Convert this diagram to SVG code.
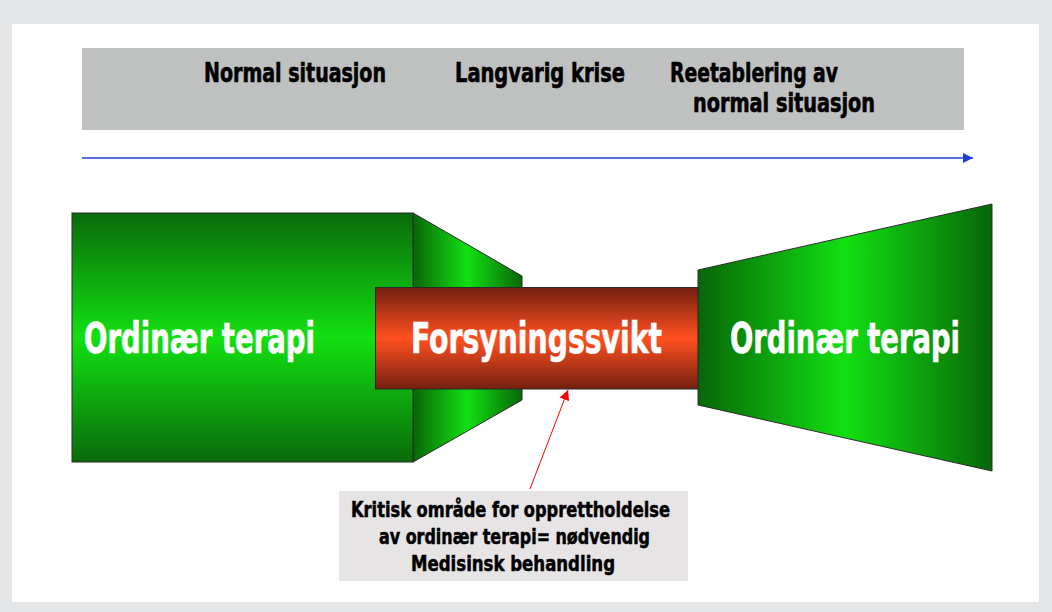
<svg xmlns="http://www.w3.org/2000/svg" width="1052" height="612" viewBox="0 0 1052 612">
<style>
.hdr{font-family:"Liberation Sans Narrow","DejaVu Sans Condensed","Liberation Sans",sans-serif;font-weight:bold;font-size:26px;fill:#000;stroke:#000;stroke-width:0.6}
.big{font-family:"Liberation Sans Narrow","DejaVu Sans Condensed","Liberation Sans",sans-serif;font-weight:bold;font-size:42px;fill:#fff;stroke:#fff;stroke-width:0.6}
.lbl{font-family:"Liberation Sans Narrow","DejaVu Sans Condensed","Liberation Sans",sans-serif;font-weight:bold;font-size:21px;fill:#000;stroke:#000;stroke-width:0.5}
.shape{stroke:#2a2a2a;stroke-width:1}
</style>
<defs>
<linearGradient id="gV" x1="0" y1="0" x2="0" y2="1">
<stop offset="0" stop-color="#0a6a0a"/><stop offset="0.5" stop-color="#12e012"/><stop offset="1" stop-color="#0a6a0a"/>
</linearGradient>
<linearGradient id="gH" x1="0" y1="0" x2="1" y2="0">
<stop offset="0" stop-color="#086608"/><stop offset="0.5" stop-color="#12e012"/><stop offset="1" stop-color="#086608"/>
</linearGradient>
<linearGradient id="gR" x1="0" y1="0" x2="0" y2="1">
<stop offset="0" stop-color="#742010"/><stop offset="0.5" stop-color="#ff5020"/><stop offset="1" stop-color="#742010"/>
</linearGradient>
<marker id="mBlue" viewBox="0 0 10 10" refX="10" refY="5" markerWidth="10" markerHeight="10" markerUnits="userSpaceOnUse" orient="auto">
<path d="M0,0 L10,5 L0,10 Z" fill="#1f3fd6"/>
</marker>
<marker id="mRed" viewBox="0 0 10 10" refX="10" refY="5" markerWidth="10" markerHeight="10" markerUnits="userSpaceOnUse" orient="auto">
<path d="M0,0 L10,5 L0,10 Z" fill="#ff0000"/>
</marker>
</defs>
<rect x="0" y="0" width="1052" height="612" fill="#e4e5e6"/>
<rect x="12" y="24" width="1027" height="578" fill="#ffffff"/>

<g id="header">
<rect x="82" y="48" width="882" height="82" fill="#bec1bf"/>
<text class="hdr" x="204" y="82" textLength="182" lengthAdjust="spacingAndGlyphs">Normal situasjon</text>
<text class="hdr" x="455" y="82" textLength="170" lengthAdjust="spacingAndGlyphs">Langvarig krise</text>
<text class="hdr" x="670" y="82" textLength="168" lengthAdjust="spacingAndGlyphs">Reetablering av</text>
<text class="hdr" x="693" y="112" textLength="182" lengthAdjust="spacingAndGlyphs">normal situasjon</text>
</g>

<g id="left-funnel">
<path class="shape" d="M413,213 L522,276 L522,400 L413,462 Z" fill="url(#gH)"/>
</g>
<g id="left-box">
<rect class="shape" x="72" y="213" width="341" height="249" fill="url(#gV)"/>
<text class="big" x="84" y="353" textLength="231" lengthAdjust="spacingAndGlyphs">Ordinær terapi</text>
</g>
<g id="right-box">
<path class="shape" d="M698,270 L992,204 L992,471 L698,405 Z" fill="url(#gH)"/>
<text class="big" x="730" y="353" textLength="230" lengthAdjust="spacingAndGlyphs">Ordinær terapi</text>
</g>
<g id="middle-box">
<rect class="shape" x="375.5" y="287.5" width="322.5" height="101.5" fill="url(#gR)"/>
<text class="big" x="411" y="353" textLength="251" lengthAdjust="spacingAndGlyphs">Forsyningssvikt</text>
</g>

<g id="label-box">
<rect x="339" y="491" width="349" height="90" fill="#e6e4e5"/>
<text class="lbl" x="351" y="517" textLength="319" lengthAdjust="spacingAndGlyphs">Kritisk område for opprettholdelse</text>
<text class="lbl" x="379" y="544" textLength="271" lengthAdjust="spacingAndGlyphs">av ordinær terapi= nødvendig</text>
<text class="lbl" x="411" y="571" textLength="204" lengthAdjust="spacingAndGlyphs">Medisinsk behandling</text>
</g>

<g id="connectors">
<line x1="82" y1="158" x2="973" y2="158" stroke="#1f3fd6" stroke-width="1.3" marker-end="url(#mBlue)"/>
<line x1="530" y1="489" x2="568" y2="390" stroke="#ff0000" stroke-width="1" marker-end="url(#mRed)"/>
</g>
</svg>
